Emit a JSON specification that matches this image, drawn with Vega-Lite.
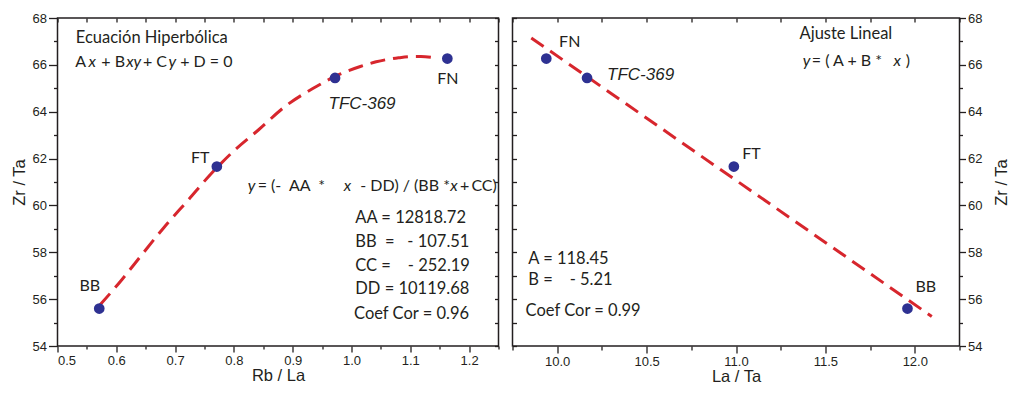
{
  "$schema": "https://vega.github.io/schema/vega-lite/v6.json",
  "background": "white",
  "padding": {"left": 9.5, "top": 11, "right": 0, "bottom": 5},
  "spacing": 10,
  "config": {
    "view": {"stroke": "#231f20", "strokeWidth": 1.5},
    "axis": {
      "domain": false, "grid": false,
      "labelFont": "Liberation Sans", "labelFontSize": 13, "labelColor": "#231f20",
      "titleFont": "Liberation Sans", "titleFontSize": 16.5, "titleFontWeight": "normal", "titleColor": "#231f20",
      "tickColor": "#231f20", "tickWidth": 1.3, "labelPadding": 2
    }
  },
  "datasets": {
    "points": [
      {"sample": "BB", "rb_la": 0.571, "la_ta": 11.959, "zr_ta": 55.6},
      {"sample": "FT", "rb_la": 0.771, "la_ta": 10.988, "zr_ta": 61.66},
      {"sample": "TFC-369", "rb_la": 0.972, "la_ta": 10.167, "zr_ta": 65.44},
      {"sample": "FN", "rb_la": 1.163, "la_ta": 9.939, "zr_ta": 66.27}
    ],
    "hyperbola": [
      {"rb_la": 0.5725, "zr_ta": 55.76},
      {"rb_la": 0.6094, "zr_ta": 56.83},
      {"rb_la": 0.6435, "zr_ta": 57.90},
      {"rb_la": 0.6804, "zr_ta": 59.04},
      {"rb_la": 0.7229, "zr_ta": 60.25},
      {"rb_la": 0.7597, "zr_ta": 61.31},
      {"rb_la": 0.8022, "zr_ta": 62.38},
      {"rb_la": 0.8421, "zr_ta": 63.23},
      {"rb_la": 0.8873, "zr_ta": 64.23},
      {"rb_la": 0.9357, "zr_ta": 65.01},
      {"rb_la": 0.9782, "zr_ta": 65.58},
      {"rb_la": 1.015, "zr_ta": 65.93},
      {"rb_la": 1.042, "zr_ta": 66.13},
      {"rb_la": 1.080, "zr_ta": 66.30},
      {"rb_la": 1.099, "zr_ta": 66.35},
      {"rb_la": 1.118, "zr_ta": 66.36},
      {"rb_la": 1.137, "zr_ta": 66.32}
    ],
    "linear": [
      {"la_ta": 9.855, "zr_ta": 67.15},
      {"la_ta": 12.095, "zr_ta": 55.26}
    ],
    "left_labels": [
      {"x": 0.555, "y": 56.57, "label": "BB"},
      {"x": 0.7427, "y": 62.02, "label": "FT"},
      {"x": 1.1637, "y": 65.41, "label": "FN"}
    ],
    "left_tfc": [{"x": 1.0179, "y": 64.33, "label": "TFC-369"}],
    "left_notes": [
      {"x": 0.5311, "y": 66.93, "label": "Ecuación Hiperbólica"},
      {"x": 1.0065, "y": 59.26, "label": "AA = 12818.72"},
      {"x": 1.0065, "y": 58.23, "label": "BB \u00a0= \u00a0 - 107.51"},
      {"x": 1.0065, "y": 57.19, "label": "CC = \u00a0 \u00a0- 252.19"},
      {"x": 1.0065, "y": 56.23, "label": "DD = 10119.68"},
      {"x": 1.0043, "y": 55.17, "label": "Coef Cor = 0.96"}
    ],
    "left_equations": [
      {"x": 0.530, "y": 65.89, "label": "A"},
      {"x": 0.5745, "y": 65.89, "label": "+ B"},
      {"x": 0.6452, "y": 65.89, "label": "+ C"},
      {"x": 0.7086, "y": 65.89, "label": "+ D = 0"},
      {"x": 0.8404, "y": 60.63, "label": "=\u00a0(-\u00a0\u00a0AA\u00a0\u00a0*"},
      {"x": 1.0150, "y": 60.63, "label": "- DD) / (BB *"},
      {"x": 1.1847, "y": 60.63, "label": "+\u2009CC)"}
    ],
    "left_equations_italic": [
      {"x": 0.5528, "y": 65.89, "label": "x"},
      {"x": 0.6168, "y": 65.89, "label": "xy"},
      {"x": 0.6889, "y": 65.89, "label": "y"},
      {"x": 0.8234, "y": 60.63, "label": "y"},
      {"x": 0.9867, "y": 60.63, "label": "x"},
      {"x": 1.1681, "y": 60.63, "label": "x"}
    ],
    "right_labels": [
      {"x": 10.070, "y": 66.96, "label": "FN"},
      {"x": 11.0864, "y": 62.21, "label": "FT"},
      {"x": 12.0613, "y": 56.52, "label": "BB"}
    ],
    "right_tfc": [{"x": 10.2786, "y": 65.58, "label": "TFC-369"}],
    "right_notes": [
      {"x": 11.3554, "y": 67.10, "label": "Ajuste Lineal"},
      {"x": 9.8384, "y": 57.51, "label": "A = 118.45"},
      {"x": 9.8384, "y": 56.62, "label": "B = \u00a0 \u00a0- 5.21"},
      {"x": 9.8234, "y": 55.26, "label": "Coef Cor = 0.99"}
    ],
    "right_equations": [
      {"x": 11.424, "y": 65.93, "label": "= ( A + B *"},
      {"x": 11.950, "y": 65.93, "label": ")"}
    ],
    "right_equations_italic": [
      {"x": 11.374, "y": 65.93, "label": "y"},
      {"x": 11.881, "y": 65.93, "label": "x"}
    ]
  },
  "hconcat": [
    {
      "width": 441,
      "height": 328,
      "resolve": {"axis": {"x": "independent", "y": "independent"}},
      "layer": [
        {
          "data": {"name": "hyperbola"},
          "mark": {"type": "line", "color": "#d7262d", "strokeWidth": 3, "strokeDash": [15, 8], "interpolate": "monotone", "strokeCap": "butt"},
          "encoding": {
            "x": {"field": "rb_la", "type": "quantitative", "scale": {"domain": [0.5, 1.25], "nice": false, "zero": false},
                  "axis": {"orient": "bottom", "values": [0.5, 0.6, 0.7, 0.8, 0.9, 1.0, 1.1, 1.2], "format": ".1f", "tickSize": 6, "title": "Rb / La", "titlePadding": 0}},
            "y": {"field": "zr_ta", "type": "quantitative", "scale": {"domain": [54, 68], "nice": false, "zero": false},
                  "axis": {"orient": "left", "values": [54, 56, 58, 60, 62, 64, 66, 68], "tickSize": 9, "title": "Zr / Ta", "titlePadding": 5}}
          }
        },
        {
          "data": {"name": "points"},
          "mark": {"type": "circle", "color": "#2e3192", "size": 115, "opacity": 1},
          "encoding": {
            "x": {"field": "rb_la", "type": "quantitative",
                  "axis": {"orient": "bottom", "values": [0.55, 0.65, 0.75, 0.85, 0.95, 1.05, 1.15, 1.25], "labels": false, "tickSize": 3, "title": null}},
            "y": {"field": "zr_ta", "type": "quantitative",
                  "axis": {"orient": "left", "values": [55, 57, 59, 61, 63, 65, 67], "labels": false, "tickSize": 4, "title": null}}
          }
        },
        {
          "data": {"name": "left_labels"},
          "mark": {"type": "text", "font": "Lato", "fontSize": 16, "color": "#231f20", "align": "center", "baseline": "middle"},
          "encoding": {
            "x": {"field": "x", "type": "quantitative",
                  "axis": {"orient": "top", "values": [0.5, 0.55, 0.6, 0.65, 0.7, 0.75, 0.8, 0.85, 0.9, 0.95, 1.0, 1.05, 1.1, 1.15, 1.2, 1.25], "labels": false, "tickSize": -4, "title": null}},
            "y": {"field": "y", "type": "quantitative",
                  "axis": {"orient": "right", "values": [54, 55, 56, 57, 58, 59, 60, 61, 62, 63, 64, 65, 66, 67, 68], "labels": false, "tickSize": -4, "title": null}},
            "text": {"field": "label"}
          }
        },
        {
          "data": {"name": "left_tfc"},
          "mark": {"type": "text", "font": "Liberation Sans", "fontStyle": "italic", "fontSize": 17, "color": "#231f20", "align": "center", "baseline": "middle"},
          "encoding": {
            "x": {"field": "x", "type": "quantitative", "axis": null},
            "y": {"field": "y", "type": "quantitative", "axis": null},
            "text": {"field": "label"}
          }
        },
        {
          "data": {"name": "left_notes"},
          "mark": {"type": "text", "font": "Lato", "fontSize": 16.5, "color": "#231f20", "align": "left", "baseline": "alphabetic"},
          "encoding": {
            "x": {"field": "x", "type": "quantitative", "axis": null},
            "y": {"field": "y", "type": "quantitative", "axis": null},
            "text": {"field": "label"}
          }
        },
        {
          "data": {"name": "left_equations"},
          "mark": {"type": "text", "font": "Lato", "fontSize": 16, "color": "#231f20", "align": "left", "baseline": "alphabetic"},
          "encoding": {
            "x": {"field": "x", "type": "quantitative", "axis": null},
            "y": {"field": "y", "type": "quantitative", "axis": null},
            "text": {"field": "label"}
          }
        },
        {
          "data": {"name": "left_equations_italic"},
          "mark": {"type": "text", "font": "Lato", "fontStyle": "italic", "fontSize": 16, "color": "#231f20", "align": "left", "baseline": "alphabetic"},
          "encoding": {
            "x": {"field": "x", "type": "quantitative", "axis": null},
            "y": {"field": "y", "type": "quantitative", "axis": null},
            "text": {"field": "label"}
          }
        }
      ]
    },
    {
      "width": 447,
      "height": 328,
      "resolve": {"axis": {"x": "independent", "y": "independent"}},
      "layer": [
        {
          "data": {"name": "linear"},
          "mark": {"type": "line", "color": "#d7262d", "strokeWidth": 3, "strokeDash": [15, 8], "strokeCap": "butt"},
          "encoding": {
            "x": {"field": "la_ta", "type": "quantitative", "scale": {"domain": [9.75, 12.25], "nice": false, "zero": false},
                  "axis": {"orient": "bottom", "values": [10, 10.5, 11, 11.5, 12], "format": ".1f", "tickSize": 7, "title": "La / Ta", "titlePadding": 0}},
            "y": {"field": "zr_ta", "type": "quantitative", "scale": {"domain": [54, 68], "nice": false, "zero": false},
                  "axis": {"orient": "right", "values": [54, 56, 58, 60, 62, 64, 66, 68], "tickSize": 6, "title": "Zr / Ta", "titleAngle": 270, "titleBaseline": "top", "titlePadding": 12}}
          }
        },
        {
          "data": {"name": "points"},
          "mark": {"type": "circle", "color": "#2e3192", "size": 115, "opacity": 1},
          "encoding": {
            "x": {"field": "la_ta", "type": "quantitative",
                  "axis": {"orient": "bottom", "values": [9.75, 10.25, 10.75, 11.25, 11.75, 12.25], "labels": false, "tickSize": 4, "title": null}},
            "y": {"field": "zr_ta", "type": "quantitative",
                  "axis": {"orient": "right", "values": [55, 57, 59, 61, 63, 65, 67], "labels": false, "tickSize": 3, "title": null}}
          }
        },
        {
          "data": {"name": "right_labels"},
          "mark": {"type": "text", "font": "Lato", "fontSize": 16, "color": "#231f20", "align": "center", "baseline": "middle"},
          "encoding": {
            "x": {"field": "x", "type": "quantitative",
                  "axis": {"orient": "top", "values": [9.75, 10, 10.25, 10.5, 10.75, 11, 11.25, 11.5, 11.75, 12, 12.25], "labels": false, "tickSize": -4, "title": null}},
            "y": {"field": "y", "type": "quantitative",
                  "axis": {"orient": "left", "values": [54, 55, 56, 57, 58, 59, 60, 61, 62, 63, 64, 65, 66, 67, 68], "labels": false, "tickSize": -4, "title": null}},
            "text": {"field": "label"}
          }
        },
        {
          "data": {"name": "right_tfc"},
          "mark": {"type": "text", "font": "Liberation Sans", "fontStyle": "italic", "fontSize": 17, "color": "#231f20", "align": "left", "baseline": "middle"},
          "encoding": {
            "x": {"field": "x", "type": "quantitative", "axis": null},
            "y": {"field": "y", "type": "quantitative", "axis": null},
            "text": {"field": "label"}
          }
        },
        {
          "data": {"name": "right_notes"},
          "mark": {"type": "text", "font": "Lato", "fontSize": 16.5, "color": "#231f20", "align": "left", "baseline": "alphabetic"},
          "encoding": {
            "x": {"field": "x", "type": "quantitative", "axis": null},
            "y": {"field": "y", "type": "quantitative", "axis": null},
            "text": {"field": "label"}
          }
        },
        {
          "data": {"name": "right_equations"},
          "mark": {"type": "text", "font": "Lato", "fontSize": 16, "color": "#231f20", "align": "left", "baseline": "alphabetic"},
          "encoding": {
            "x": {"field": "x", "type": "quantitative", "axis": null},
            "y": {"field": "y", "type": "quantitative", "axis": null},
            "text": {"field": "label"}
          }
        },
        {
          "data": {"name": "right_equations_italic"},
          "mark": {"type": "text", "font": "Lato", "fontStyle": "italic", "fontSize": 16, "color": "#231f20", "align": "left", "baseline": "alphabetic"},
          "encoding": {
            "x": {"field": "x", "type": "quantitative", "axis": null},
            "y": {"field": "y", "type": "quantitative", "axis": null},
            "text": {"field": "label"}
          }
        }
      ]
    }
  ]
}
